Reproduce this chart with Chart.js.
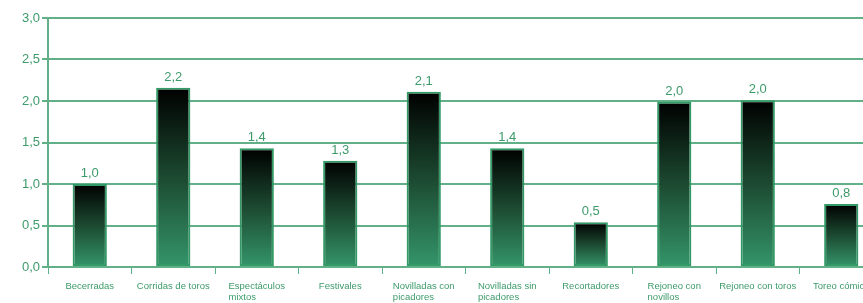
<!DOCTYPE html>
<html>
<head>
<meta charset="utf-8">
<script src="https://cdn.jsdelivr.net/npm/chart.js@4/dist/chart.umd.min.js"></script>
<style>
html,body{margin:0;padding:0;background:#fff;overflow:hidden;}
#wrap{position:relative;width:892px;height:303px;}
</style>
</head>
<body>
<div id="wrap"><canvas id="c" width="892" height="303"></canvas></div>
<script>
const categories = [
  ["Becerradas"],
  ["Corridas de toros"],
  ["Espectáculos", "mixtos"],
  ["Festivales"],
  ["Novilladas con", "picadores"],
  ["Novilladas sin", "picadores"],
  ["Recortadores"],
  ["Rejoneo con", "novillos"],
  ["Rejoneo con toros"],
  ["Toreo cómico"]
];
const values = [1.0, 2.16, 1.43, 1.28, 2.11, 1.43, 0.54, 1.99, 2.01, 0.76];
const yTicks = [0, 0.5, 1.0, 1.5, 2.0, 2.5, 3.0];

const GREEN = '#339966';
const TEXT = '#3d9a6a';
const GRID = '#62b088';
const fmt = v => v.toFixed(1).replace('.', ',');

const valueLabels = {
  id: 'valueLabels',
  afterDatasetsDraw(chart) {
    const ctx = chart.ctx;
    const meta = chart.getDatasetMeta(0);
    ctx.save();
    ctx.fillStyle = TEXT;
    ctx.font = '13px "Liberation Sans", Arial, sans-serif';
    ctx.textAlign = 'center';
    ctx.textBaseline = 'bottom';
    meta.data.forEach((bar, i) => {
      ctx.fillText(fmt(values[i]), bar.x, bar.y - 4);
    });
    ctx.restore();
  }
};

const xLabels = {
  id: 'xLabels',
  afterDraw(chart) {
    const ctx = chart.ctx;
    const xs = chart.scales.x;
    ctx.save();
    ctx.fillStyle = TEXT;
    ctx.font = '9.5px "Liberation Sans", Arial, sans-serif';
    ctx.textBaseline = 'middle';
    ctx.textAlign = 'left';
    categories.forEach((lines, i) => {
      const cx = xs.getPixelForValue(i);
      const w = Math.max(...lines.map(l => ctx.measureText(l).width));
      const left = cx - w / 2;
      lines.forEach((l, j) => {
        ctx.fillText(l, left, xs.top + 19 + j * 11);
      });
    });
    ctx.restore();
  }
};

new Chart(document.getElementById('c'), {
  type: 'bar',
  data: {
    labels: categories,
    datasets: [{
      data: values,
      borderColor: GREEN,
      borderWidth: 2,
      borderSkipped: false,
      barPercentage: 0.41,
      categoryPercentage: 1.0,
      backgroundColor(context) {
        const chart = context.chart;
        const area = chart.chartArea;
        if (!area || context.type !== 'data') return GREEN;
        const ys = chart.scales.y;
        const top = ys.getPixelForValue(values[context.dataIndex]);
        const bottom = ys.getPixelForValue(0);
        const g = chart.ctx.createLinearGradient(0, top, 0, bottom);
        g.addColorStop(0, '#000000');
        g.addColorStop(0.5, '#1c4a31');
        g.addColorStop(1, '#34966a');
        return g;
      }
    }]
  },
  options: {
    responsive: false,
    animation: false,
    devicePixelRatio: 1,
    layout: { padding: { top: 18, right: 9, left: 0, bottom: 0 } },
    plugins: { legend: { display: false }, tooltip: { enabled: false } },
    scales: {
      x: {
        offset: true,
        afterFit(scale) { scale.height = 36; },
        grid: { offset: true, drawOnChartArea: false, drawTicks: true, tickLength: 7, color: GRID, lineWidth: 1 },
        border: { color: GRID, width: 2 },
        ticks: {
          color: 'rgba(0,0,0,0)',
          font: { size: 8, family: '"Liberation Sans", Arial, sans-serif', lineHeight: 1.35 },
          maxRotation: 0, minRotation: 0, autoSkip: false, padding: 4
        }
      },
      y: {
        min: 0, max: 3,
        afterFit(scale) { scale.width = 48; },
        afterBuildTicks(scale) { scale.ticks = yTicks.map(v => ({ value: v })); },
        grid: { color: GRID, lineWidth: 2, tickLength: 6, drawTicks: true },
        border: { color: GRID, width: 2 },
        ticks: {
          color: TEXT,
          font: { size: 13, family: '"Liberation Sans", Arial, sans-serif' },
          padding: 2,
          callback: v => fmt(v)
        }
      }
    }
  },
  plugins: [valueLabels, xLabels]
});
</script>
</body>
</html>
